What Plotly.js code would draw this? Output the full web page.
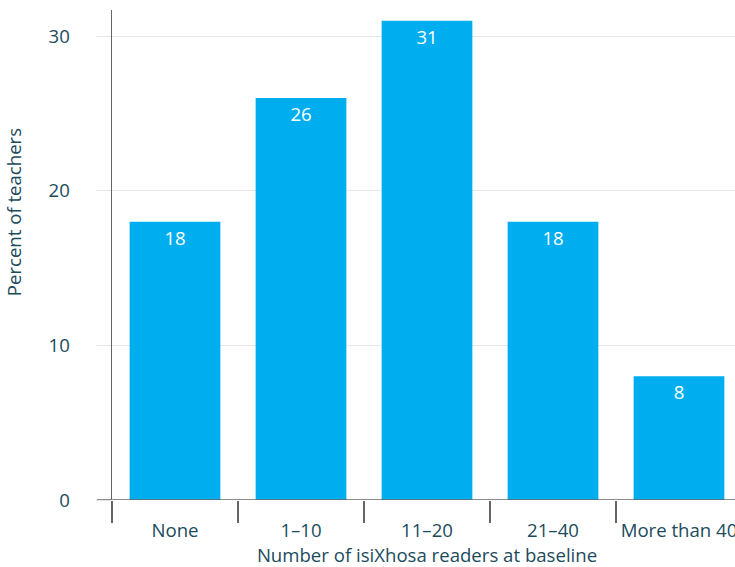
<!DOCTYPE html>
<html>
<head>
<meta charset="utf-8">
<script src="https://cdn.plot.ly/plotly-3.0.1.min.js"></script>
<style>
  html, body { margin: 0; padding: 0; overflow: hidden; background: #fff; }
  #chart { width: 750px; height: 567px; }
</style>
</head>
<body>
<div id="chart"></div>
<script>
// Share of teachers by number of isiXhosa readers in class at baseline
const categories = ["None", "1–10", "11–20", "21–40", "More than 40"];
const percentTeachers = [18, 26, 31, 18, 8];

const textColor = "#1b4b5c";
const barColor = "#00aeef";
const axisColor = "#666666";
const gridColor = "#e6e6e6";
const fontSize = 18.6;

const trace = {
  type: "bar",
  x: categories,
  y: percentTeachers,
  text: percentTeachers.map(String),
  textposition: "inside",
  insidetextanchor: "end",
  textfont: { family: "Open Sans", size: fontSize, color: "#ffffff" },
  marker: { color: barColor },
  hoverinfo: "x+y"
};

const layout = {
  width: 750,
  height: 567,
  margin: { l: 112, r: 8, t: 10, b: 67 },
  paper_bgcolor: "#ffffff",
  plot_bgcolor: "#ffffff",
  font: { family: "Open Sans", size: fontSize, color: textColor },
  bargap: 0.28,
  showlegend: false,
  xaxis: {
    type: "category",
    range: [-0.5, 4.5],
    tickson: "boundaries",
    ticks: "outside",
    ticklen: 22,
    tickwidth: 1.5,
    tickcolor: axisColor,
    tickangle: 0,
    ticklabelstandoff: 17,
    showgrid: false,
    showline: false,
    zeroline: false,
    tickfont: { family: "Open Sans", size: fontSize, color: textColor },
    title: {
      text: "Number of isiXhosa readers at baseline",
      font: { family: "Open Sans", size: fontSize, color: textColor },
      standoff: 2
    }
  },
  yaxis: {
    range: [0, 31.7],
    tickvals: [0, 10, 20, 30],
    ticks: "outside",
    ticklen: 15,
    tickwidth: 1,
    tickcolor: gridColor,
    ticklabelstandoff: 22,
    showgrid: true,
    gridcolor: gridColor,
    gridwidth: 1,
    showline: true,
    linecolor: axisColor,
    linewidth: 1.5,
    zeroline: false,
    tickfont: { family: "Open Sans", size: fontSize, color: textColor }
  },
  annotations: [{
    text: "Percent of teachers",
    xref: "paper", yref: "paper",
    x: -0.155, y: 0.588,
    xanchor: "center", yanchor: "middle",
    textangle: -90,
    showarrow: false,
    font: { family: "Open Sans", size: fontSize, color: textColor }
  }],
  shapes: [{
    type: "line",
    xref: "paper", yref: "y",
    x0: -0.024, x1: 1, y0: 0, y1: 0,
    line: { color: axisColor, width: 1.5 },
    layer: "above"
  }]
};

Plotly.newPlot("chart", [trace], layout, { displayModeBar: false, staticPlot: true });
</script>
</body>
</html>
